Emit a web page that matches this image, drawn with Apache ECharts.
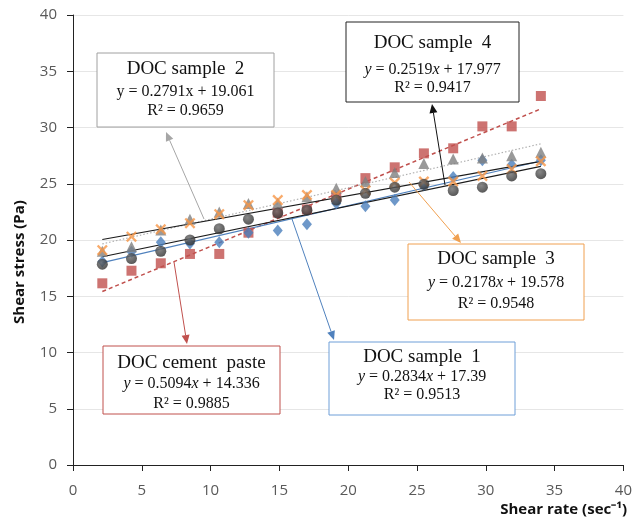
<!DOCTYPE html>
<html>
<head>
<meta charset="utf-8">
<script src="https://cdn.jsdelivr.net/npm/echarts@6/dist/echarts.min.js"></script>
<style>
  html, body { margin: 0; padding: 0; background: #fff; }
  #chart { width: 635px; height: 522px; }
</style>
</head>
<body>
<div id="chart"></div>
<script>
// shear rate (sec-1)
const shearRate = [2.13, 4.25, 6.38, 8.5, 10.63, 12.75, 14.88, 17, 19.13, 21.25, 23.38, 25.5, 27.63, 29.75, 31.88, 34]

// shear stress (Pa)
const cementPaste = [16.15, 17.27, 17.93, 18.76, 18.76, 20.65, 22.43, 22.72, 23.85, 25.5, 26.46, 27.7, 28.15, 30.1, 30.1, 32.8]
const sample1 = [18.1, 18.95, 19.8, 19.7, 19.8, 20.65, 20.85, 21.4, 23.25, 23.0, 23.55, 24.9, 25.6, 27.1, 26.7, 27.1]
const sample2 = [19.0, 19.4, 20.9, 21.85, 22.5, 23.25, 23.3, 23.85, 24.6, 25.2, 26.0, 26.8, 27.2, 27.3, 27.5, 27.8]
const sample3 = [19.1, 20.3, 20.95, 21.5, 22.3, 23.1, 23.55, 24.0, 24.0, 24.4, 25.1, 25.2, 25.2, 25.7, 26.3, 27.0]
const sample4 = [17.85, 18.35, 19.0, 20.0, 21.0, 21.85, 22.4, 22.65, 23.55, 24.15, 24.7, 24.95, 24.4, 24.7, 25.7, 25.9]

// trendlines as printed in the boxes
const seriesNames = ['DOC cement paste', 'DOC sample 1', 'DOC sample 2', 'DOC sample 3', 'DOC sample 4']
const slopes = [0.5094, 0.2834, 0.2791, 0.2178, 0.2519]
const intercepts = [14.336, 17.39, 19.061, 19.578, 17.977]
const rSquared = ['0.9885', '0.9513', '0.9659', '0.9548', '0.9417']

const chart = echarts.init(document.getElementById('chart'))

const pts = (ys) => shearRate.map((x, i) => [x, ys[i]])
const trend = (k) => {
  const x0 = shearRate[0]
  const x1 = shearRate[shearRate.length - 1]
  return [[x0, slopes[k] * x0 + intercepts[k]], [x1, slopes[k] * x1 + intercepts[k]]]
}

const crossPath = 'path://M0,3 L3,0 L10,7 L17,0 L20,3 L13,10 L20,17 L17,20 L10,13 L3,20 L0,17 L7,10 Z'

const trendStyles = [
  { color: '#c0504d', width: 1.5, type: [4, 3] },
  { color: '#4f81bd', width: 1.2, type: 'solid' },
  { color: '#b0b0b0', width: 1.2, type: [1.5, 2] },
  { color: '#1a1a1a', width: 1.2, type: 'solid' },
  { color: '#1a1a1a', width: 1.2, type: 'solid' },
]

const trendSeries = trendStyles.map((ls, k) => ({
  name: seriesNames[k] + ' trend',
  type: 'line',
  data: trend(k),
  symbol: 'none',
  silent: true,
  z: 2,
  lineStyle: ls,
}))

const scatterSeries = [
  { name: seriesNames[0], data: pts(cementPaste), symbol: 'rect', symbolSize: 10, itemStyle: { color: '#c0504d' } },
  { name: seriesNames[1], data: pts(sample1), symbol: 'diamond', symbolSize: [10, 12], itemStyle: { color: '#4a7ebb' } },
  { name: seriesNames[2], data: pts(sample2), symbol: 'triangle', symbolSize: 11, itemStyle: { color: '#7f7f7f' } },
  { name: seriesNames[3], data: pts(sample3), symbol: crossPath, symbolSize: 11, itemStyle: { color: '#f79646' } },
  {
    name: seriesNames[4], data: pts(sample4), symbol: 'circle', symbolSize: 11,
    itemStyle: {
      color: new echarts.graphic.RadialGradient(0.4, 0.35, 0.7, [
        { offset: 0, color: '#6a6a6a' },
        { offset: 1, color: '#2a2a2a' },
      ]),
    },
  },
].map((s) => Object.assign({ type: 'scatter', z: 3 }, s))

// annotation boxes (pixel layout)
function eqBox(k, box, color, italic, lineY) {
  const it = italic ? 'italic' : 'normal'
  const cx = box[0] + box[2] / 2
  const serif = '"Liberation Serif", "Times New Roman", serif'
  return [
    {
      type: 'rect', z: 100,
      shape: { x: box[0], y: box[1], width: box[2], height: box[3] },
      style: { fill: '#fff', stroke: color, lineWidth: 1 },
    },
    {
      type: 'text', z: 101,
      x: cx, y: lineY[0],
      style: { text: seriesNames[k].replace(/ (\S+)$/, '  $1'), font: '19px ' + serif, fill: '#111', align: 'center', verticalAlign: 'middle' },
    },
    {
      type: 'text', z: 101,
      x: cx, y: lineY[1],
      style: {
        text: '{i|y} = ' + slopes[k] + '{i|x} + ' + intercepts[k],
        font: '16px ' + serif,
        fill: '#111',
        align: 'center',
        verticalAlign: 'middle',
        rich: { i: { fontStyle: it, fontSize: 16, fontFamily: serif } },
      },
    },
    {
      type: 'text', z: 101,
      x: cx, y: lineY[2],
      style: { text: 'R² = ' + rSquared[k], font: '16px ' + serif, fill: '#111', align: 'center', verticalAlign: 'middle' },
    },
  ]
}

function arrow(from, to, color) {
  const ang = Math.atan2(to[1] - from[1], to[0] - from[0])
  const len = 9
  const half = 4
  const bx = to[0] - len * Math.cos(ang)
  const by = to[1] - len * Math.sin(ang)
  const nx = -Math.sin(ang) * half
  const ny = Math.cos(ang) * half
  return [
    {
      type: 'line', z: 90,
      shape: { x1: from[0], y1: from[1], x2: bx, y2: by },
      style: { stroke: color, lineWidth: 1 },
    },
    {
      type: 'polygon', z: 90,
      shape: { points: [[to[0], to[1]], [bx + nx, by + ny], [bx - nx, by - ny]] },
      style: { fill: color },
    },
  ]
}

const graphics = [
  ...arrow([204, 219], [166, 132], '#a6a6a6'),
  ...arrow([445, 185], [432, 104], '#111'),
  ...arrow([409, 182], [461, 243], '#f0a050'),
  ...arrow([174, 262], [187, 344], '#c0504d'),
  ...arrow([292, 219], [334, 340], '#4f81bd'),
  ...eqBox(2, [97, 53, 177, 74], '#a0a0a0', false, [69, 92, 111]),
  ...eqBox(4, [346, 22, 173, 80], '#222', true, [43, 70, 88]),
  ...eqBox(3, [408, 244, 176, 76], '#f0a050', true, [259, 283, 304]),
  ...eqBox(0, [103, 346, 177, 68], '#c0504d', true, [363, 384, 404]),
  ...eqBox(1, [329, 342, 186, 73], '#6f9fd8', true, [357, 377, 395]),
  {
    type: 'text', x: 20, y: 262, rotation: Math.PI / 2,
    style: { text: 'Shear stress (Pa)', font: 'bold 15px "Open Sans", sans-serif', fill: '#111', align: 'center', verticalAlign: 'middle' },
  },
  {
    type: 'text', x: 627, y: 510,
    style: { text: 'Shear rate (sec⁻¹)', font: 'bold 15px "Open Sans", sans-serif', fill: '#111', align: 'right', verticalAlign: 'middle' },
  },
]

const axisCommon = {
  type: 'value',
  min: 0,
  max: 40,
  interval: 5,
  axisLine: { show: true, lineStyle: { color: '#222', width: 1 } },
  axisTick: { show: true, inside: false, length: 6, lineStyle: { color: '#222' } },
  axisLabel: { color: '#595959', fontSize: 15, fontFamily: '"Open Sans", sans-serif' },
}

chart.setOption({
  animation: false,
  grid: { left: 73, right: 10, top: 15, bottom: 57, containLabel: false },
  xAxis: Object.assign({}, axisCommon, {
    splitLine: { show: false },
    axisLabel: Object.assign({}, axisCommon.axisLabel, { margin: 18 }),
  }),
  yAxis: Object.assign({}, axisCommon, {
    splitLine: { show: true, lineStyle: { color: '#e6e6e6', width: 1 } },
    axisLabel: Object.assign({}, axisCommon.axisLabel, { margin: 16 }),
  }),
  series: [...trendSeries, ...scatterSeries],
  graphic: graphics,
})
</script>
</body>
</html>
